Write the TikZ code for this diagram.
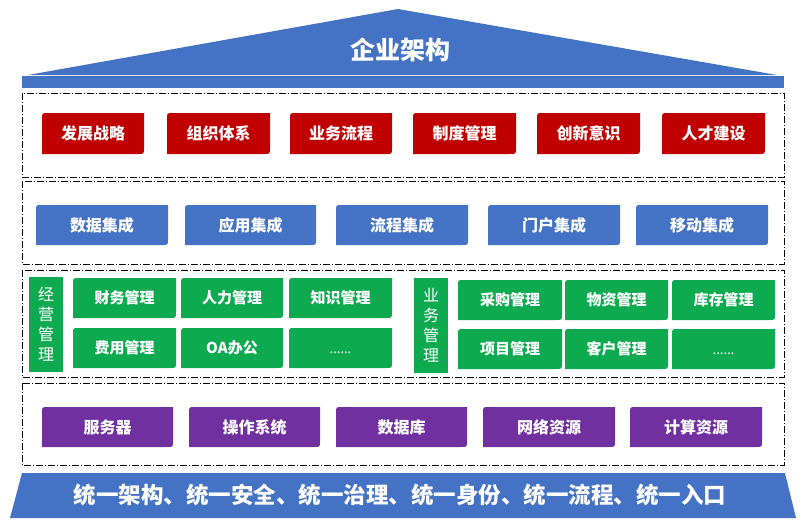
\documentclass[tikz,border=0pt]{standalone}
\usepackage{fontspec}
\setmainfont{Noto Sans CJK SC}
\definecolor{rred}{HTML}{C00000}
\definecolor{bblue}{HTML}{4472C4}
\definecolor{ggreen}{HTML}{0EAA50}
\definecolor{ppurple}{HTML}{7030A0}
\tikzset{
  boxtxt/.style={text=white, font=\bfseries\fontsize{16}{18}\selectfont, inner sep=0pt},
  gtxt/.style={text=white, font=\bfseries\fontsize{15}{18}\selectfont, inner sep=0pt},
  sidetxt/.style={text=white, font=\fontsize{16}{20}\selectfont, align=center, inner sep=0pt},
  frame/.style={draw=black, line width=0.8pt, dash pattern=on 7pt off 2pt on 1pt off 2pt},
}
% name, x1, y1, x2, y2, colour, text style, text
\newcommand{\dbox}[8]{%
  \fill[#6] (#2,#5) -- (#2,#3+6) .. controls (#2,#3) .. (#2+6,#3) -- (#4,#3) -- (#4,#5-6) .. controls (#4,#5) .. (#4-6,#5) -- cycle;
  \node[#7] (#1) at ({(#2+#4)/2},{(#3+#5)/2}) {#8};%
}
\newcommand{\moredots}{\vphantom{管}{\mdseries\fontsize{13}{15}\selectfont ......}}
\begin{document}
\begin{tikzpicture}[x=1pt,y=-1pt]
\useasboundingbox[fill=white] (0,0) rectangle (807,528);
% roof
\fill[bblue] (28,75) -- (398,9) -- (777,75) -- cycle;
\fill[bblue] (22,76) rectangle (784,88);
\node[text=white, font=\bfseries\fontsize{25}{28}\selectfont, inner sep=0pt] (title) at (400,50) {企业架构};
% frames
\draw[frame] (22,93) rectangle (784,177);
\draw[frame] (22,181) rectangle (784,264);
\draw[frame] (22,270) rectangle (784,377);
\draw[frame] (22,383) rectangle (784,465);
% red row
\dbox{r1}{42}{113}{144}{154}{rred}{boxtxt}{发展战略}
\dbox{r2}{167}{113}{270}{154}{rred}{boxtxt}{组织体系}
\dbox{r3}{290}{113}{392}{154}{rred}{boxtxt}{业务流程}
\dbox{r4}{413}{113}{516}{154}{rred}{boxtxt}{制度管理}
\dbox{r5}{537}{113}{640}{154}{rred}{boxtxt}{创新意识}
\dbox{r6}{662}{113}{765}{154}{rred}{boxtxt}{人才建设}
% blue row
\dbox{b1}{36}{205}{168}{245}{bblue}{boxtxt}{数据集成}
\dbox{b2}{185}{205}{316}{245}{bblue}{boxtxt}{应用集成}
\dbox{b3}{336}{205}{468}{245}{bblue}{boxtxt}{流程集成}
\dbox{b4}{488}{205}{620}{245}{bblue}{boxtxt}{门户集成}
\dbox{b5}{636}{205}{768}{245}{bblue}{boxtxt}{移动集成}
% green side bars
\fill[ggreen] (29,277) rectangle (63,372);
\node[sidetxt] (jy) at (46,324.5) {经\\营\\管\\理};
\fill[ggreen] (414,278) rectangle (448,373);
\node[sidetxt] (yw) at (431,325.5) {业\\务\\管\\理};
% green boxes left
\dbox{g1}{73}{278}{176}{318}{ggreen}{gtxt}{财务管理}
\dbox{g2}{181}{278}{283}{318}{ggreen}{gtxt}{人力管理}
\dbox{g3}{289}{278}{392}{318}{ggreen}{gtxt}{知识管理}
\dbox{g4}{73}{328}{176}{368}{ggreen}{gtxt}{费用管理}
\dbox{g5}{181}{328}{283}{368}{ggreen}{gtxt}{OA办公}
\dbox{g6}{289}{328}{392}{368}{ggreen}{gtxt}{\moredots}
% green boxes right
\dbox{g7}{458}{280}{562}{320}{ggreen}{gtxt}{采购管理}
\dbox{g8}{565}{280}{668}{320}{ggreen}{gtxt}{物资管理}
\dbox{g9}{672}{280}{775}{320}{ggreen}{gtxt}{库存管理}
\dbox{g10}{458}{329}{562}{369}{ggreen}{gtxt}{项目管理}
\dbox{g11}{565}{329}{668}{369}{ggreen}{gtxt}{客户管理}
\dbox{g12}{672}{329}{775}{369}{ggreen}{gtxt}{\moredots}
% purple row
\dbox{p1}{42}{407}{173}{447}{ppurple}{boxtxt}{服务器}
\dbox{p2}{189}{407}{320}{447}{ppurple}{boxtxt}{操作系统}
\dbox{p3}{336}{407}{467}{447}{ppurple}{boxtxt}{数据库}
\dbox{p4}{483}{407}{615}{447}{ppurple}{boxtxt}{网络资源}
\dbox{p5}{630}{407}{762}{447}{ppurple}{boxtxt}{计算资源}
% base
\fill[bblue] (22,473) -- (785,473) -- (796,518) -- (10,518) -- cycle;
\node[text=white, font=\bfseries\fontsize{22.5}{26}\selectfont, inner sep=0pt] (base) at (400,495) {统一架构、统一安全、统一治理、统一身份、统一流程、统一入口};
\end{tikzpicture}
\end{document}
